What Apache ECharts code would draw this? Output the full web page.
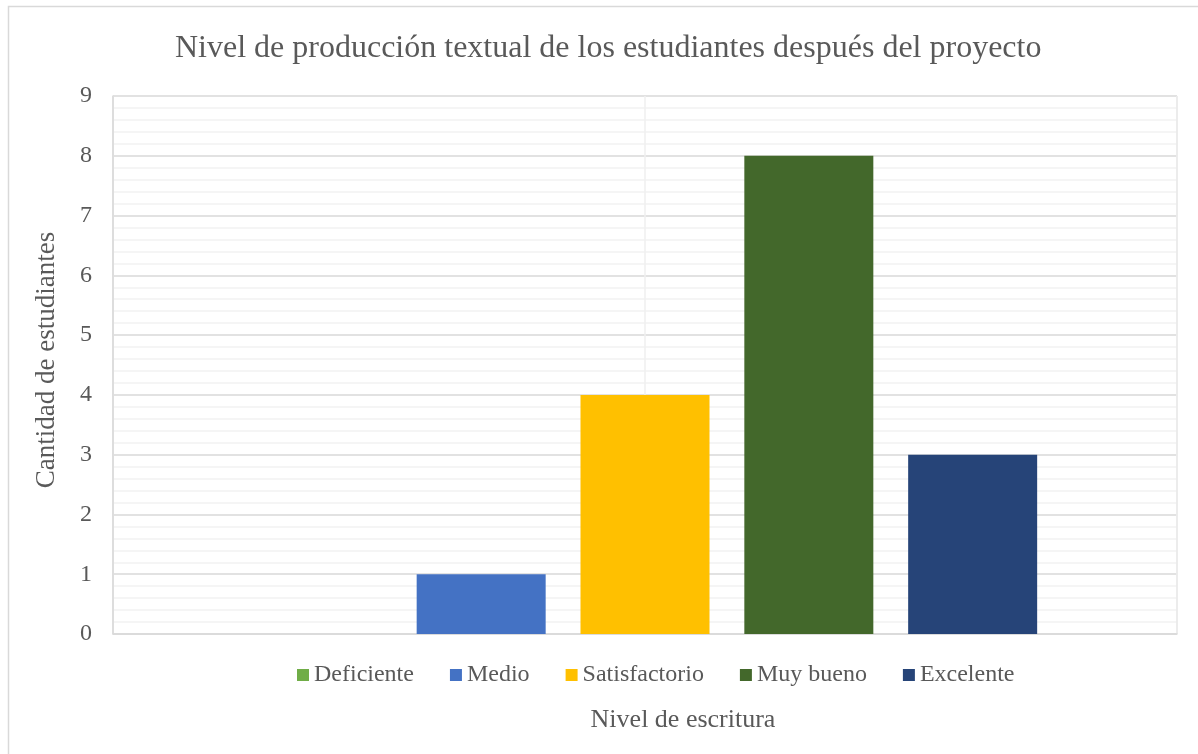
<!DOCTYPE html>
<html>
<head>
<meta charset="utf-8">
<script src="https://cdn.jsdelivr.net/npm/echarts@6/dist/echarts.min.js"></script>
<style>
  html, body { margin: 0; padding: 0; background: #fff; }
  #chart { width: 1198px; height: 754px; }
</style>
</head>
<body>
<div id="chart"></div>
<script>
const categories = ['']
const seriesNames = ['Deficiente', 'Medio', 'Satisfactorio', 'Muy bueno', 'Excelente']
const seriesValues = [[0], [1], [4], [8], [3]]
const colors = ['#70ad47', '#4472c4', '#ffc000', '#43682b', '#264478']

const font = '"Liberation Serif", "Times New Roman", serif'
const textColor = '#595959'

const chart = echarts.init(document.getElementById('chart'))

chart.setOption({
  animation: false,
  color: colors,
  title: {
    text: 'Nivel de producción textual de los estudiantes después del proyecto',
    left: 170,
    top: 28,
    textStyle: { fontFamily: font, fontSize: 32, fontWeight: 'normal', color: textColor }
  },
  legend: {
    left: 292,
    top: 658,
    icon: 'rect',
    itemWidth: 12,
    itemHeight: 12,
    itemGap: 36,
    textStyle: { fontFamily: font, fontSize: 24, color: textColor }
  },
  grid: { left: 113, right: 21, top: 96, bottom: 120 },
  xAxis: [
    {
      type: 'category',
      data: categories,
      axisTick: { show: false },
      axisLabel: { show: false },
      axisLine: { lineStyle: { color: '#d9d9d9', width: 1.5 } },
      splitLine: { show: true, lineStyle: { color: '#d9d9d9', width: 1.5 } }
    },
    {
      type: 'value',
      min: 0,
      max: 2,
      interval: 1,
      position: 'bottom',
      axisLine: { show: false },
      axisTick: { show: false },
      axisLabel: { show: false },
      splitLine: { show: true, lineStyle: { color: '#efefef', width: 1.5 } }
    }
  ],
  yAxis: {
    type: 'value',
    min: 0,
    max: 9,
    interval: 1,
    axisLine: { show: true, lineStyle: { color: '#d9d9d9', width: 1.5 } },
    axisTick: { show: false },
    axisLabel: { fontFamily: font, fontSize: 24, color: textColor, margin: 21 },
    splitLine: { lineStyle: { color: '#d9d9d9', width: 1.5 } },
    minorTick: { show: false, splitNumber: 5 },
    minorSplitLine: { show: true, lineStyle: { color: '#f2f2f2', width: 1.5 } }
  },
  series: seriesNames.map((name, i) => ({
    name,
    type: 'bar',
    data: seriesValues[i],
    barWidth: 129,
    barGap: '27%',
    itemStyle: { color: colors[i] }
  })),
  graphic: [
    {
      type: 'rect',
      shape: { x: 8.5, y: 6.5, width: 1200, height: 760 },
      style: { fill: 'none', stroke: '#d9d9d9', lineWidth: 1.5 },
      silent: true,
      z: -1
    },
    {
      type: 'text',
      x: 47,
      y: 360,
      rotation: Math.PI / 2,
      style: {
        text: 'Cantidad de estudiantes',
        textAlign: 'center',
        textVerticalAlign: 'middle',
        fontFamily: font,
        fontSize: 27,
        fill: textColor
      }
    },
    {
      type: 'text',
      style: {
        text: 'Nivel de escritura',
        x: 683,
        y: 720,
        textAlign: 'center',
        textVerticalAlign: 'middle',
        fontFamily: font,
        fontSize: 26,
        fill: textColor
      }
    }
  ]
})
</script>
</body>
</html>
